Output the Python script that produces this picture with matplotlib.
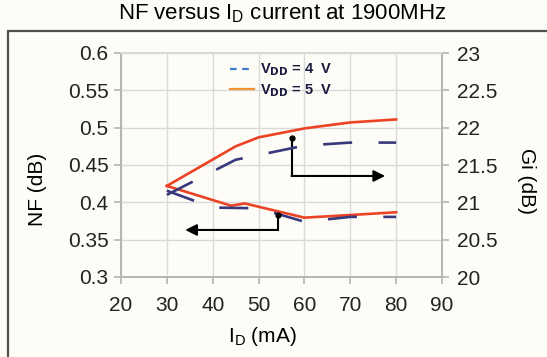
import matplotlib
matplotlib.use('Agg')
import matplotlib.pyplot as plt
from matplotlib.lines import Line2D
from matplotlib.patches import Rectangle

plt.rcParams['font.family'] = ['Liberation Sans', 'DejaVu Sans']
plt.rcParams['mathtext.fontset'] = 'custom'
plt.rcParams['mathtext.rm'] = 'Liberation Sans'

# ==================== Data ====================
# NF curves (left axis)
id_nf5 = [30, 44, 47, 60, 70, 80]
nf_5v = [0.422, 0.3955, 0.3985, 0.3795, 0.383, 0.3867]
id_nf4 = [30, 40, 50, 60, 70, 80]
nf_4v = [0.4156, 0.393, 0.392, 0.374, 0.3805, 0.3805]

# Gain curves (right axis)
id_gi5 = [30, 45, 50, 60, 70, 80]
gi_5v = [21.22, 21.75, 21.87, 21.99, 22.07, 22.11]
id_gi4 = [30, 45, 60, 70, 80]
gi_4v = [21.10, 21.57, 21.76, 21.80, 21.80]

# pointer arrows (which curve belongs to which axis)
arrow_gi_x = [57.2, 57.2, 77.6]
arrow_gi_y = [0.4857, 0.4353, 0.4353]
arrow_nf_x = [54.2, 54.2, 34.0]
arrow_nf_y = [0.383, 0.363, 0.363]

xticks = [20, 30, 40, 50, 60, 70, 80, 90]
nf_ticks = [0.3, 0.35, 0.4, 0.45, 0.5, 0.55, 0.6]
gi_ticks = [20, 20.5, 21, 21.5, 22, 22.5, 23]

bg = '#fdfcf7'
red = '#ec4325'
navy = '#38387c'
gray = '#b4b4b4'

# ==================== Plot ====================
fig = plt.figure(figsize=(5.47, 3.57), dpi=100, facecolor=bg)
ax = fig.add_axes([121 / 547, 1 - 277 / 357, 321 / 547, 224 / 357])
ax.set_facecolor(bg)

ax.plot(id_nf5, nf_5v, color=red, lw=1.9, zorder=3)
ax.plot(id_nf4, nf_4v, color=navy, lw=1.9, linestyle=(0, (11, 10)), zorder=3)

ax.set_xlim(20, 90)
ax.set_ylim(0.3, 0.6)
ax.set_xticks(xticks)
ax.set_yticks(nf_ticks)
ax.set_yticklabels(['0.3', '0.35', '0.4', '0.45', '0.5', '0.55', '0.6'])
ax.grid(True, color='#d9d9d9', lw=1)
ax.set_axisbelow(True)

ax2 = ax.twinx()
ax2.plot(id_gi5, gi_5v, color=red, lw=1.9, zorder=3)
ax2.plot(id_gi4, gi_4v, color=navy, lw=1.9, linestyle=(0, (11, 10)), zorder=3)
ax2.set_ylim(20, 23)
ax2.set_yticks(gi_ticks)
ax2.set_yticklabels(['20', '20.5', '21', '21.5', '22', '22.5', '23'])

for a in (ax, ax2):
    for s in a.spines.values():
        s.set_color(gray)
        s.set_linewidth(1.2)
    a.spines['top'].set_color('#d9d9d9')
    a.tick_params(length=5, width=1.2, color=gray, labelsize=15, labelcolor='#222222')
ax.tick_params(axis='x', pad=8.5)
ax.tick_params(axis='y', pad=4)
ax2.tick_params(axis='y', pad=6)

# arrows
ax.plot(arrow_gi_x[:2], arrow_gi_y[:2], color='black', lw=1.5, zorder=4)
ax.plot(arrow_gi_x[0], arrow_gi_y[0], 'o', color='black', ms=3.5, zorder=4)
ax.annotate('', xy=(arrow_gi_x[2], arrow_gi_y[2]), xytext=(arrow_gi_x[1], arrow_gi_y[1]),
            arrowprops=dict(arrowstyle='-|>', color='black', lw=1.5, mutation_scale=17,
                            shrinkA=0, shrinkB=0), zorder=4)
ax.plot(arrow_nf_x[:2], arrow_nf_y[:2], color='black', lw=1.5, zorder=4)
ax.plot(arrow_nf_x[0], arrow_nf_y[0], 'o', color='black', ms=3.5, zorder=4)
ax.annotate('', xy=(arrow_nf_x[2], arrow_nf_y[2]), xytext=(arrow_nf_x[1], arrow_nf_y[1]),
            arrowprops=dict(arrowstyle='-|>', color='black', lw=1.5, mutation_scale=17,
                            shrinkA=0, shrinkB=0), zorder=4)

# legend
handles = [Line2D([], [], color='#3f7fcf', lw=1.6, linestyle=(0, (3, 2.5))),
           Line2D([], [], color='#f59035', lw=1.6)]
leg = ax2.legend(handles, [r'V$_{\mathbf{DD}}$ = 4  V', r'V$_{\mathbf{DD}}$ = 5  V'],
                 loc='upper left', bbox_to_anchor=(0.30, 1.02), frameon=False,
                 handlelength=1.6, handletextpad=0.4, labelspacing=0.25,
                 prop={'size': 10.5, 'weight': 'bold'})
for t in leg.get_texts():
    t.set_color('#1a1a40')

# labels
ax.set_xlabel(r'I$_{\mathregular{D}}$ (mA)', fontsize=15)
ax.xaxis.set_label_coords(0.442, -0.215)
ax.set_ylabel('NF (dB)', fontsize=15, va='center')
ax.yaxis.set_label_coords(-0.259, 0.39)
ax2.set_ylabel('Gi (dB)', fontsize=15, rotation=270, va='center')
ax2.yaxis.set_label_coords(1.262, 0.43)

fig.text(282 / 547, 1 - 14 / 357, r'NF versus I$_{\mathregular{D}}$ current at 1900MHz',
         ha='center', va='center', fontsize=16)

# outer frame
fig.add_artist(Rectangle((7.5 / 547, -0.2), 1.5, 0.2 + 1 - 31 / 357, transform=fig.transFigure,
                         fill=False, edgecolor='#505050', lw=1.6))

fig.savefig('out.png', dpi=100, facecolor=bg)
